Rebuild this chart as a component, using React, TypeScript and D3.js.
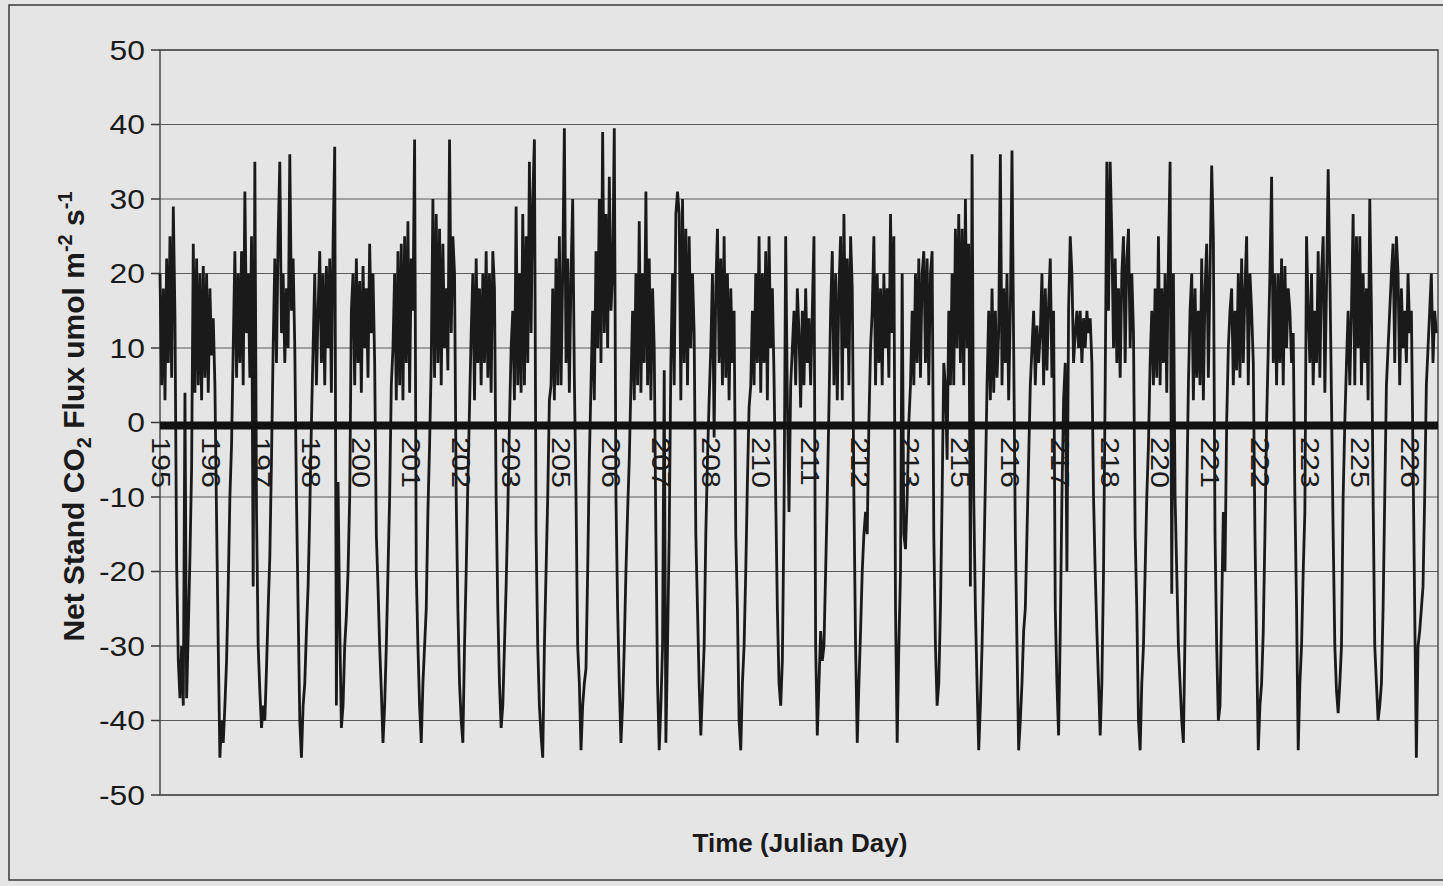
import React from "react";
import * as d3 from "d3";

const W = 1443;
const H = 886;

// Julian days shown (hourly values, h0..h23 per day)
const julianDays = [195, 196, 197, 198, 199, 200, 201, 202, 203, 204, 205, 206, 207, 208, 209, 210, 211, 212, 213, 214, 215, 216, 217, 218, 219, 220, 221, 222, 223, 224, 225, 226];

// Net stand CO2 flux (umol m-2 s-1), 24 hourly readings per day
const fluxByDay: number[][] = [
  [20, 5, 18, 3, 22, 8, 25, 6, 29, 14, -19, -32, -37, -30, -38, 4, -37, -28, -18, -6, 24, 4, 22, 5],
  [20, 3, 21, 6, 20, 4, 18, 9, 14, 5, -13, -30, -45, -40, -43, -38, -32, -22, -10, -3, 10, 23, 6, 20],
  [8, 23, 5, 31, 12, 20, 6, 25, -22, 35, -12, -30, -36, -41, -38, -40, -33, -25, -18, -5, 10, 22, 8, 25],
  [35, 12, 20, 8, 18, 10, 36, 15, 22, 10, -10, -25, -40, -45, -38, -35, -28, -22, -12, 0, 10, 20, 5, 15],
  [23, 8, 20, 5, 21, 10, 22, 4, 24, 37, -38, -8, -27, -41, -38, -30, -26, -20, -10, 15, 20, 5, 22, 8],
  [19, 4, 21, 10, 18, 6, 24, 12, 20, 8, -15, -22, -30, -36, -43, -38, -30, -20, -10, 5, 10, 20, 3, 23],
  [5, 24, 3, 25, 8, 27, 4, 22, 15, 38, -20, -30, -38, -43, -35, -30, -25, -12, -3, 8, 30, 6, 28, 8],
  [26, 5, 24, 10, 18, 7, 38, 12, 25, 20, -10, -25, -35, -40, -43, -30, -20, -8, 2, 12, 20, 3, 22, 8],
  [18, 5, 20, 8, 23, 6, 20, 4, 23, 18, -10, -25, -35, -41, -38, -30, -22, -12, 0, 10, 15, 3, 29, 5],
  [20, 4, 28, 5, 25, 8, 35, 12, 30, 38, -15, -30, -38, -42, -45, -30, -20, -10, 3, 5, 18, 3, 22, 5],
  [25, 5, 20, 39.5, 8, 22, 4, 20, 30, 6, -10, -30, -35, -44, -38, -35, -33, -20, -5, 5, 15, 3, 23, 10],
  [30, 8, 39, 12, 28, 10, 33, 15, 20, 39.5, -10, -25, -35, -43, -38, -30, -20, -12, -5, 5, 15, 3, 20, 5],
  [27, 4, 20, 8, 31, 5, 22, 3, 18, 10, -15, -35, -44, -38, -30, 7, -43, -30, -15, 8, 20, 5, 28, 31],
  [28, 3, 30, 8, 26, 5, 25, 10, 20, 12, -15, -25, -35, -42, -36, -30, -15, -5, 3, 10, 20, -2, 18, 26],
  [8, 22, 5, 25, 6, 20, 3, 18, 8, 15, -15, -25, -40, -44, -35, -30, -20, -8, 2, 5, 15, 5, 20, 8],
  [25, 4, 20, 8, 23, 3, 25, 10, 18, 6, -10, -25, -35, -38, -32, -12, 25, 3, -12, 5, 10, 15, 5, 18],
  [12, 2, 15, 5, 18, 8, 14, 5, 15, 25, -30, -42, -35, -28, -32, -30, -20, -10, 2, 15, 23, 5, 20, 3],
  [18, 25, 3, 28, 10, 22, 5, 25, 18, -10, -30, -43, -35, -28, -20, -15, -12, -15, 0, 10, 15, 25, 5, 20],
  [8, 18, 5, 20, 10, 18, 6, 28, 12, 25, -25, -43, -30, -20, 20, -15, -17, -10, 0, 5, 15, 5, 20, 8],
  [22, 6, 20, 23, 8, 22, 5, 20, 23, -15, -30, -38, -35, -25, -10, 8, 5, -5, 15, 5, 20, 5, 26, 10],
  [28, 8, 26, 5, 30, 10, 24, -22, 36, -10, -25, -35, -44, -38, -30, -20, -8, 5, 15, 3, 18, 4, 15, 6],
  [12, 36, 5, 18, 8, 20, 3, 15, 36.5, 10, -15, -30, -44, -40, -35, -28, -25, -15, -5, 5, 10, 15, 5, 13],
  [8, 12, 20, 5, 18, 7, 16, 22, 6, 15, -25, -35, -42, -28, -10, 3, 8, -20, 15, 25, 20, 8, 12, 15],
  [10, 15, 8, 14, 10, 15, 12, 14, 8, -10, -20, -28, -35, -42, -35, -20, 5, 35, 15, 35, 25, 10, 22, 8],
  [18, 6, 20, 25, 8, 22, 26, 10, 20, 12, -15, -25, -40, -44, -35, -30, -20, -10, -3, 8, 15, 5, 18, 6],
  [25, 5, 18, 8, 20, 4, 22, 35, -23, 20, -10, -20, -30, -35, -40, -43, -28, -10, 5, 15, 20, 3, 18, 6],
  [15, 5, 22, 3, 18, 24, 6, 20, 34.5, 25, -15, -30, -40, -38, -25, -12, -20, 0, 10, 15, 18, 5, 15, 7],
  [20, 6, 22, 8, 18, 25, 5, 20, 15, 8, -15, -30, -44, -38, -35, -28, -15, 0, 10, 20, 33, 8, 20, 5],
  [20, 8, 22, 5, 21, 10, 18, 15, 8, 12, -10, -25, -44, -35, -30, -20, -12, 25, 15, 8, 20, 5, 15, 8],
  [23, 6, 20, 25, 4, 18, 34, 20, 3, -15, -30, -36, -39, -35, -30, -10, 0, 8, 15, 5, 15, 28, 5, 25],
  [10, 25, 5, 20, 8, 18, 3, 30, 15, -10, -30, -35, -40, -38, -35, -25, -10, 5, 10, 15, 20, 24, 8, 25],
  [20, 5, 18, 10, 15, 8, 20, 12, 15, -5, -25, -45, -30, -28, -25, -22, -10, 5, 10, 15, 20, 8, 15, 12],
];

const yTicks = [50, 40, 30, 20, 10, 0, -10, -20, -30, -40, -50];
const xTickLabels = ["195", "196", "197", "198", "200", "201", "202", "203", "205", "206", "207", "208", "210", "211", "212", "213", "215", "216", "217", "218", "220", "221", "222", "223", "225", "226"];
const labelIntervalDays = 1.25;

export default function App() {
  const left = 160, right = 1438, top = 50, bottom = 795;
  const x = d3.scaleLinear().domain([195, 227]).range([left, right]);
  const y = d3.scaleLinear().domain([-50, 50]).range([bottom, top]);

  const points: [number, number][] = julianDays.flatMap((d, i) =>
    fluxByDay[i].map((v, h) => [d + h / 24, v] as [number, number])
  );
  const line = d3
    .line<[number, number]>()
    .x((p) => x(p[0]))
    .y((p) => y(p[1]));

  const bg = "#e5e5e5";
  const ink = "#1a1a1a";
  const font = "'Liberation Sans', Arial, sans-serif";

  return (
    <svg
      width={W}
      height={H}
      style={{ position: "absolute", left: 0, top: 0, display: "block" }}
      fontFamily={font}
    >
      <rect x={0} y={0} width={W} height={H} fill={bg} />
      <rect x={9} y={5} width={W + 10} height={875} fill="none" stroke="#3a3a3a" strokeWidth={1.5} />

      {/* gridlines */}
      {yTicks.map((t) => (
        <line key={"g" + t} x1={left} x2={right} y1={y(t)} y2={y(t)} stroke="#5a5a5a" strokeWidth={1} />
      ))}
      {/* plot border */}
      <rect x={left} y={top} width={right - left} height={bottom - top} fill="none" stroke="#4a4a4a" strokeWidth={1.5} />

      {/* y ticks and labels */}
      {yTicks.map((t) => (
        <g key={"t" + t}>
          <line x1={left - 9} x2={left} y1={y(t)} y2={y(t)} stroke="#3a3a3a" strokeWidth={1.5} />
          <text
            transform={`translate(145,${y(t)}) scale(1.18,1)`}
            dy="0.36em"
            textAnchor="end"
            fontSize={27}
            fill={ink}
          >
            {t}
          </text>
        </g>
      ))}

      {/* data */}
      <path d={line(points) || ""} fill="none" stroke={ink} strokeWidth={2.8} strokeLinejoin="miter" />

      {/* thick x axis at zero */}
      <line x1={left} x2={right} y1={y(0) + 3} y2={y(0) + 3} stroke="#111" strokeWidth={8} />

      {/* x tick labels */}
      {xTickLabels.map((lab, i) => {
        const px = x(195 + i * labelIntervalDays);
        return (
          <text
            key={"x" + i}
            transform={`translate(${px + 1},437) rotate(90) scale(1.22,1)`}
            dominantBaseline="central"
            textAnchor="start"
            fontSize={25}
            fill={ink}
          >
            {lab}
          </text>
        );
      })}

      {/* axis titles */}
      <text
        transform={`translate(84,${(top + bottom) / 2 - 6}) rotate(-90)`}
        textAnchor="middle"
        fontSize={30}
        fontWeight="bold"
        fill={ink}
      >
        Net Stand CO<tspan fontSize={20} dy={7}>2</tspan>
        <tspan dy={-7}> Flux umol m</tspan>
        <tspan fontSize={20} dy={-12}>-2</tspan>
        <tspan dy={12}> s</tspan>
        <tspan fontSize={20} dy={-12}>-1</tspan>
      </text>
      <text x={800} y={852} textAnchor="middle" fontSize={26} fontWeight="bold" fill={ink}>
        Time (Julian Day)
      </text>
    </svg>
  );
}
